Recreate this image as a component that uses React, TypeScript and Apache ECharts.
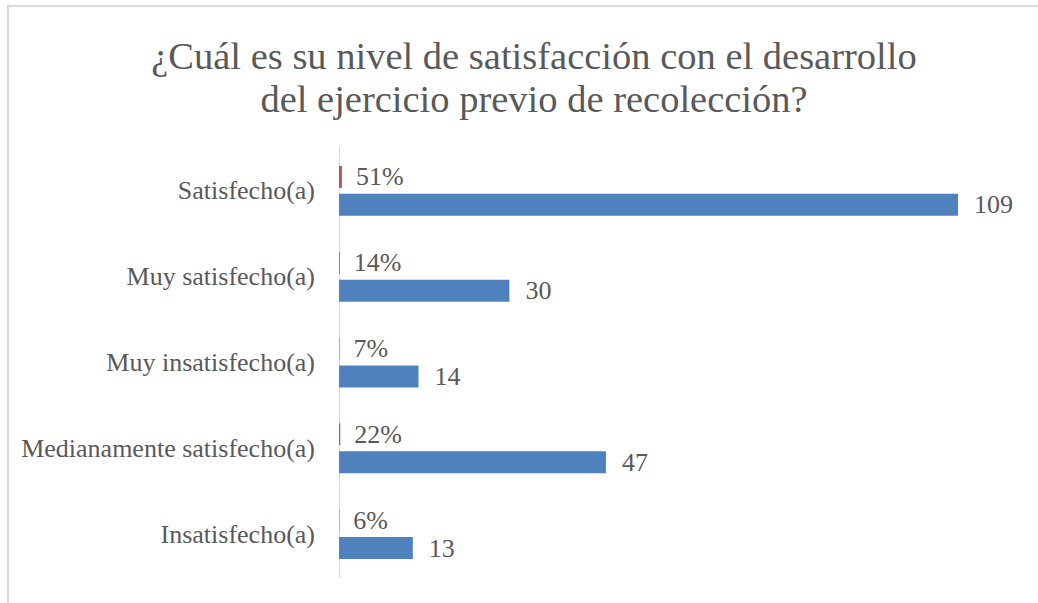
import React, { useEffect, useRef } from "react";
import * as echarts from "echarts";

const titleText = "¿Cuál es su nivel de satisfacción con el desarrollo\ndel ejercicio previo de recolección?";
const categories = [
  "Satisfecho(a)",
  "Muy satisfecho(a)",
  "Muy insatisfecho(a)",
  "Medianamente satisfecho(a)",
  "Insatisfecho(a)",
];
const percentValues = [0.51, 0.14, 0.07, 0.22, 0.06];
const countValues = [109, 30, 14, 47, 13];
const xMax = 120;

const FONT = "'Liberation Serif', 'Times New Roman', serif";
const TEXT = "#595959";

export default function App() {
  const ref = useRef<HTMLDivElement>(null);
  useEffect(() => {
    if (!ref.current) return;
    const chart = echarts.init(ref.current, null, { renderer: "svg" });
    chart.setOption({
      animation: false,
      backgroundColor: "#ffffff",
      title: {
        text: titleText,
        left: 529,
        top: 29,
        textAlign: "center",
        textStyle: {
          fontFamily: FONT,
          fontSize: 38.5,
          fontWeight: "normal",
          color: TEXT,
          lineHeight: 43,
        },
      },
      graphic: [
        {
          type: "rect",
          shape: { x: 8, y: 6, width: 1100, height: 700 },
          style: { fill: "none", stroke: "#d9d9d9", lineWidth: 2 },
          silent: true,
        },
      ],
      grid: { left: 339, right: 17.5, top: 148, bottom: 26, containLabel: false },
      xAxis: {
        type: "value",
        min: 0,
        max: xMax,
        show: false,
      },
      yAxis: {
        type: "category",
        data: categories,
        inverse: true,
        axisLine: { show: true, lineStyle: { color: "#d9d9d9", width: 1 } },
        axisTick: { show: false },
        axisLabel: {
          fontFamily: FONT,
          fontSize: 26,
          color: TEXT,
          margin: 24,
        },
        splitLine: { show: false },
      },
      series: [
        {
          name: "Porcentaje",
          type: "bar",
          data: percentValues,
          barWidth: 22,
          barGap: "27%",
          itemStyle: { color: "#c0504d" },
          label: {
            show: true,
            position: "right",
            distance: 14,
            fontFamily: FONT,
            fontSize: 26,
            color: TEXT,
            formatter: (p: any) => Math.round(p.value * 100) + "%",
          },
        },
        {
          name: "Cantidad",
          type: "bar",
          data: countValues,
          barWidth: 22,
          barGap: "27%",
          itemStyle: { color: "#4f81bd" },
          label: {
            show: true,
            position: "right",
            distance: 16,
            fontFamily: FONT,
            fontSize: 26,
            color: TEXT,
          },
        },
      ],
    });
    return () => chart.dispose();
  }, []);
  return (
    <div
      ref={ref}
      style={{ position: "fixed", left: 0, top: 0, width: 1038, height: 603 }}
    />
  );
}
